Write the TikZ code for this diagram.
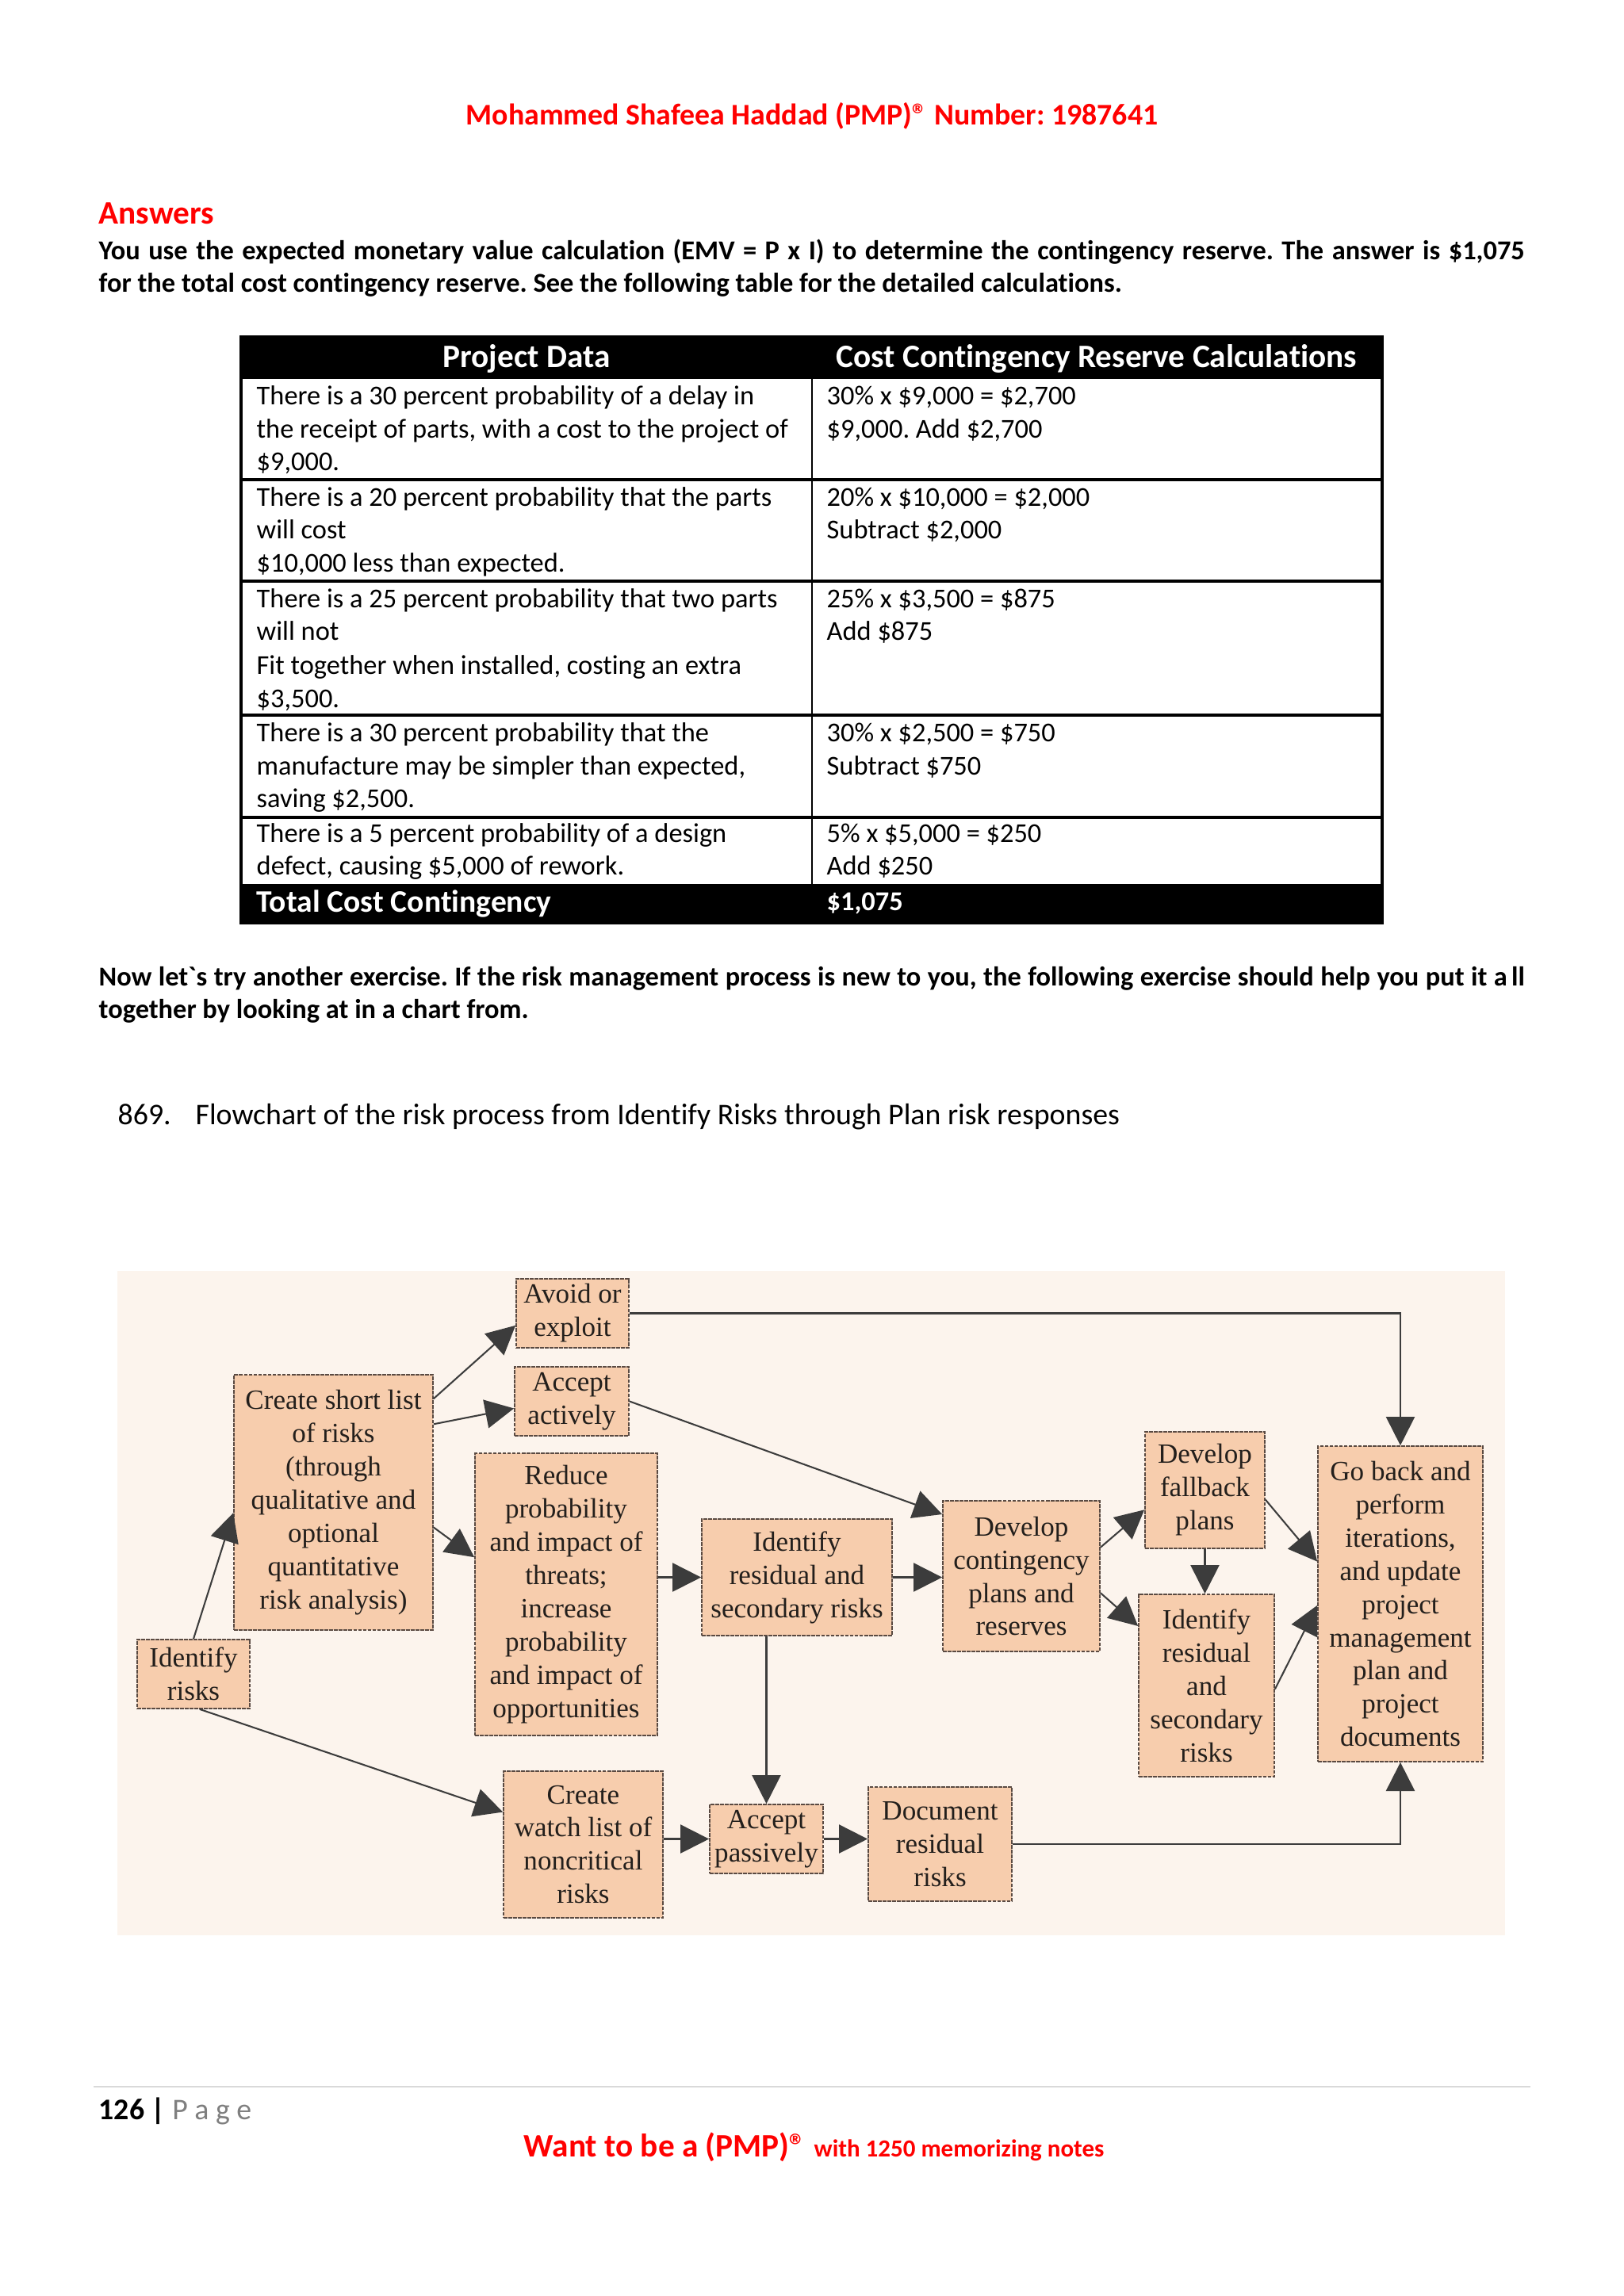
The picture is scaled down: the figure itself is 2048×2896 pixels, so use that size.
\documentclass[tikz,border=0pt]{standalone}
\usepackage{fontspec}
\setmainfont{Carlito}[Ligatures={TeXOff,CommonOff}]
\newfontfamily\flowserif{Liberation Serif}
\usetikzlibrary{arrows.meta}
\definecolor{pmpred}{HTML}{FF0000}
\definecolor{boxfill}{HTML}{F7CDAD}
\definecolor{boxline}{HTML}{5A4A42}
\definecolor{arrowc}{HTML}{3C3C3C}
\definecolor{flowbg}{HTML}{FCF4ED}
\definecolor{flowtext}{HTML}{231F1C}
\definecolor{pagegray}{HTML}{7F7F7F}
\definecolor{rulegray}{HTML}{D9D9D9}
\frenchspacing
\begin{document}
\begin{tikzpicture}[x=0.2907pt,y=-0.2907pt,
  txt/.style={inner sep=0pt, anchor=base west},
  body/.style={txt, font=\fontsize{10}{12}\selectfont},
  bodyb/.style={txt, font=\bfseries\fontsize{10}{12}\selectfont},
  thead/.style={inner sep=0pt, anchor=base, text=white, font=\bfseries\fontsize{12}{14}\selectfont},
  flowbox/.style 2 args={draw=boxline, fill=boxfill, line width=0.5pt, dash pattern=on 1.4pt off 0.35pt,
    minimum width=#1*0.2907pt, minimum height=#2*0.2907pt, inner sep=0pt, align=center,
    text=flowtext, font=\flowserif\fontsize{10.2}{12.2}\selectfont},
  arr/.style={draw=arrowc, line width=0.6pt, -{Triangle[length=10.5pt,width=10.5pt]}}]
\fill[white] (0,0) rectangle (2048,2896);
\useasboundingbox (0,0) rectangle (2048,2896);

% header
\node[inner sep=0pt, anchor=base, text=pmpred, font=\bfseries\fontsize{11}{13}\selectfont] (hdr) at (1024,157)
  {Mohammed Shafeea Haddad (PMP)® Number: 1987641};
\node[txt, text=pmpred, font=\bfseries\fontsize{12}{14}\selectfont] (ans) at (124,282) {Answers};
\node[bodyb] (p1) at (124,327) {\makebox[522.7pt][s]{You use the expected monetary value calculation (EMV = P x I) to determine the contingency reserve. The answer is \$1,075}};
\node[bodyb] (p2) at (124,368) {for the total cost contingency reserve. See the following table for the detailed calculations.};

% table
\fill[black] (304,425) rectangle (1743,478);
\fill[black] (304,1115) rectangle (1743,1164);
\draw[line width=0.6pt] (1024,478) -- (1024,1115);
\draw[line width=1pt] (304,605) -- (1743,605);
\draw[line width=1pt] (304,733) -- (1743,733);
\draw[line width=1pt] (304,902) -- (1743,902);
\draw[line width=1pt] (304,1031) -- (1743,1031);
\draw[line width=1pt] (304,425) rectangle (1743,1164);
\node[thead] (th1) at (664,463) {Project Data};
\node[thead] (th2) at (1383,463) {Cost Contingency Reserve Calculations};

\node[body] (r1a) at (323,510) {There is a 30 percent probability of a delay in};
\node[body] (r1b) at (323,552) {the receipt of parts, with a cost to the project of};
\node[body] (r1c) at (323,593) {\$9,000.};
\node[body] (c1a) at (1042,510) {30\% x \$9,000 = \$2,700};
\node[body] (c1b) at (1042,552) {\$9,000. Add \$2,700};

\node[body] (r2a) at (323,638) {There is a 20 percent probability that the parts};
\node[body] (r2b) at (323,679) {will cost};
\node[body] (r2c) at (323,721) {\$10,000 less than expected.};
\node[body] (c2a) at (1042,638) {20\% x \$10,000 = \$2,000};
\node[body] (c2b) at (1042,679) {Subtract \$2,000};

\node[body] (r3a) at (323,766) {There is a 25 percent probability that two parts};
\node[body] (r3b) at (323,807) {will not};
\node[body] (r3c) at (323,850) {Fit together when installed, costing an extra};
\node[body] (r3d) at (323,892) {\$3,500.};
\node[body] (c3a) at (1042,766) {25\% x \$3,500 = \$875};
\node[body] (c3b) at (1042,807) {Add \$875};

\node[body] (r4a) at (323,935) {There is a 30 percent probability that the};
\node[body] (r4b) at (323,977) {manufacture may be simpler than expected,};
\node[body] (r4c) at (323,1018) {saving \$2,500.};
\node[body] (c4a) at (1042,935) {30\% x \$2,500 = \$750};
\node[body] (c4b) at (1042,977) {Subtract \$750};

\node[body] (r5a) at (323,1062) {There is a 5 percent probability of a design};
\node[body] (r5b) at (323,1103) {defect, causing \$5,000 of rework.};
\node[body] (c5a) at (1042,1062) {5\% x \$5,000 = \$250};
\node[body] (c5b) at (1042,1103) {Add \$250};

\node[txt, text=white, font=\bfseries\fontsize{11.5}{13}\selectfont] (tot) at (323,1150) {Total Cost Contingency};
\node[bodyb, text=white] (totv) at (1042,1148) {\$1,075};

% second paragraph
\node[bodyb] (q1) at (124,1243) {\makebox[522.7pt][s]{Now let\symbol{96}s try another exercise. If the risk management process is new to you, the following exercise should help you put it a\kern1.5pt ll}};
\node[bodyb] (q2) at (124,1284) {together by looking at in a chart from.};

\node[txt, font=\fontsize{11}{13}\selectfont] (num) at (148,1418) {869.};
\node[txt, font=\fontsize{11}{13}\selectfont] (cap) at (246,1418) {Flowchart of the risk process from Identify Risks through Plan risk responses};

% flowchart
\fill[flowbg] (148,1603) rectangle (1898,2441);

\node[flowbox={142}{87}] (avoid) at (722,1656.5) {Avoid or\\exploit};
\node[flowbox={144}{87}] (acta) at (721,1767.5) {Accept\\actively};
\node[flowbox={251}{322}] (short) at (420.5,1895) {Create short list\\of risks\\(through\\qualitative and\\optional\\quantitative\\risk analysis)};
\node[flowbox={230}{356}] (reduce) at (714,2011) {Reduce\\probability\\and impact of\\threats;\\increase\\probability\\and impact of\\opportunities};
\node[flowbox={142}{87}] (ident) at (244,2111.5) {Identify\\risks};
\node[flowbox={240}{147}] (resid) at (1005,1989.5) {Identify\\residual and\\secondary risks};
\node[flowbox={198}{190}] (conting) at (1288,1988) {Develop\\contingency\\plans and\\reserves};
\node[flowbox={151}{147}] (fallback) at (1519.5,1879.5) {Develop\\fallback\\plans};
\node[flowbox={171}{230}] (residb) at (1521.5,2126) {Identify\\residual\\and\\secondary\\risks};
\node[flowbox={208}{398}] (goback) at (1766,2023) {Go back and\\perform\\iterations,\\and update\\project\\management\\plan and\\project\\documents};
\node[flowbox={201}{185}] (watch) at (735.5,2326.5) {Create\\watch list of\\noncritical\\risks};
\node[flowbox={143}{87}] (accp) at (966.5,2319.5) {Accept\\passively};
\node[flowbox={181}{144}] (docres) at (1185.5,2326) {Document\\residual\\risks};

\draw[arr] (ident.north) -- (short.186);
\draw[arr] (short.46) -- (avoid.192);
\draw[arr] (short.38) -- (acta.187);
\draw[arr] (short.-14) -- (reduce.158);
\draw[arr] (ident.-80) -- (watch.158);
\draw[arr] (avoid.east) -| (goback.north);
\draw[arr] (acta.east) -- (conting.142);
\draw[arr] (reduce.east |- resid.west) -- (resid.west);
\draw[arr] (resid.south -| accp.north) -- (accp.north);
\draw[arr] (watch.east |- accp.west) -- (accp.west);
\draw[arr] (accp.east) -- (accp.east -| docres.west);
\draw[arr] (docres.east) -| (goback.south);
\draw[arr] (resid.east) -- (resid.east -| conting.west);
\draw[arr] (conting.20) -- (fallback.198);
\draw[arr] (conting.-12) -- (residb.139);
\draw[arr] (fallback.south) -- (fallback.south |- residb.north);
\draw[arr] (fallback.-9) -- (goback.153);
\draw[arr] (residb.-3) -- (goback.181);

% footer
\draw[rulegray, line width=0.8pt] (118,2632) -- (1930,2632);
\node[txt, font=\fontsize{11}{13}\selectfont] (pg) at (124,2673) {\textbf{126 |} {\color{pagegray}P a g e}};
\node[txt, text=pmpred, font=\bfseries\fontsize{12}{14}\selectfont] (want) at (660,2720) {Want to be a (PMP)®};
\node[txt, text=pmpred, font=\bfseries\fontsize{9}{11}\selectfont] (notes) at (1026,2720) {with 1250 memorizing notes};
\end{tikzpicture}
\end{document}
